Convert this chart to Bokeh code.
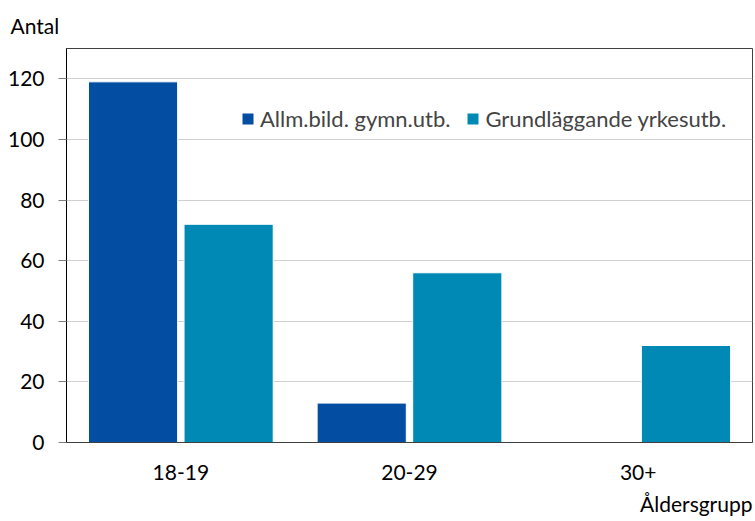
from bokeh.plotting import figure
from bokeh.models import FactorRange, Range1d, FixedTicker, Legend, LegendItem, ColumnDataSource, Title
from bokeh.transform import dodge
from bokeh.embed import file_html
from bokeh.resources import INLINE

categories = ["18-19", "20-29", "30+"]
allm = [119, 13, 0]
grund = [72, 56, 32]
series_names = ["Allm.bild. gymn.utb.", "Grundläggande yrkesutb."]
y_ticks = [0, 20, 40, 60, 80, 100, 120]

FONT = "Lato"
FS = "21px"
src = ColumnDataSource(dict(cat=categories, allm=allm, grund=grund))

p = figure(width=755, height=521, x_range=FactorRange(*categories, range_padding=0),
           y_range=Range1d(0, 130), output_backend="svg", toolbar_location=None,
           min_border_left=66, min_border_top=48, min_border_right=3, min_border_bottom=79)

r1 = p.vbar(x=dodge("cat", -0.209, range=p.x_range), top="allm", width=0.39, source=src,
            fill_color="#034EA2", line_color="white", line_width=1)
r2 = p.vbar(x=dodge("cat", 0.209, range=p.x_range), top="grund", width=0.39, source=src,
            fill_color="#0089B5", line_color="white", line_width=1)

p.outline_line_color = "#404040"
p.xgrid.grid_line_color = None
p.ygrid.grid_line_color = "#d0d0d0"
p.ygrid.ticker = FixedTicker(ticks=y_ticks)
p.yaxis.ticker = FixedTicker(ticks=y_ticks)

p.yaxis.axis_line_color = "black"
p.yaxis.major_tick_line_color = "#808080"
p.yaxis.major_tick_out = 8
p.yaxis.major_tick_in = 0
p.yaxis.minor_tick_line_color = None
p.yaxis.major_label_standoff = 14
p.xaxis.axis_line_color = "#404040"
p.xaxis.major_tick_line_color = None
p.xaxis.minor_tick_line_color = None
p.xaxis.major_label_standoff = 16
for ax in (p.xaxis, p.yaxis):
    ax.major_label_text_font = FONT
    ax.major_label_text_font_size = FS
    ax.major_label_text_color = "black"

xlab = Title(text="Åldersgrupp", align="right", offset=0, standoff=12, vertical_align="bottom",
             text_font=FONT, text_font_size=FS, text_font_style="normal", text_color="black")
p.add_layout(xlab, "below")

p.title.text = "Antal"
p.title.align = "left"
p.title.offset = -56
p.title.standoff = 21
p.title.text_font = FONT
p.title.text_font_size = FS
p.title.text_font_style = "normal"
p.title.text_color = "black"

legend = Legend(items=[LegendItem(label=series_names[0], renderers=[r1]),
                       LegendItem(label=series_names[1], renderers=[r2])],
                orientation="horizontal", location=(174, 310), padding=0, margin=0,
                glyph_width=15, glyph_height=15, label_standoff=5, spacing=15,
                border_line_color=None, background_fill_alpha=0,
                label_text_font=FONT, label_text_font_size="22px")
p.add_layout(legend, "center")

open("out.html", "w").write(file_html(p, INLINE))
